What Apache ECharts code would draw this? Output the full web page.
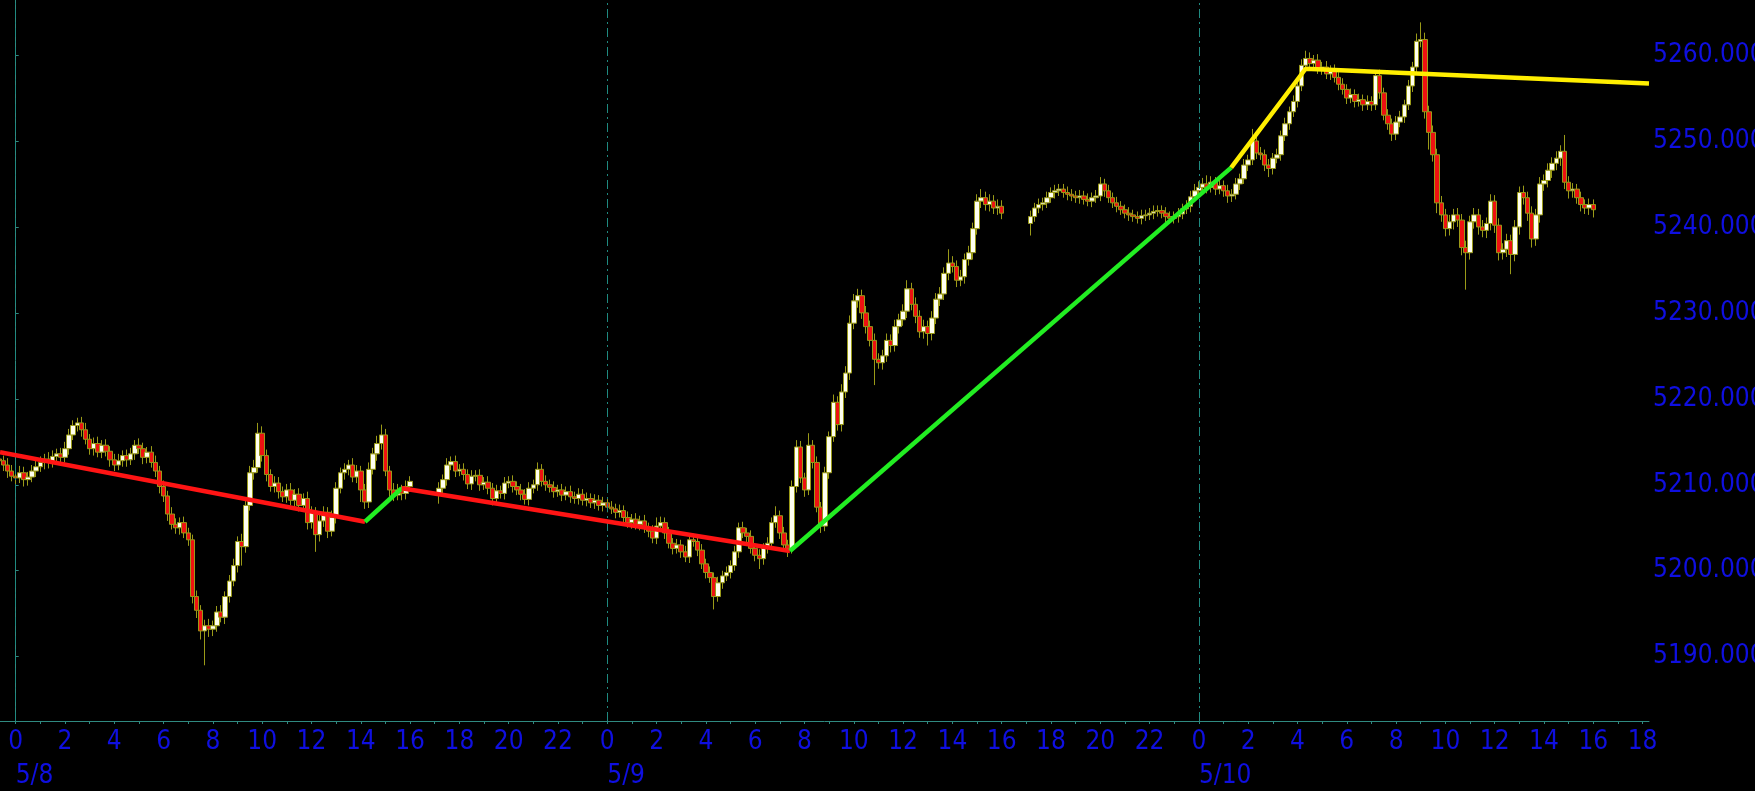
<!DOCTYPE html>
<html><head><meta charset="utf-8">
<script src="https://cdn.jsdelivr.net/npm/echarts@6/dist/echarts.min.js"></script>
<style>html,body{margin:0;padding:0;background:#000;}#c{width:1755px;height:791px;}</style>
</head><body><div id="c"></div>
<script>
// x values are hours counted from 5/8 00:00; 10-minute bars, stamped at bar close
const barMinutes = 10;
const segStartMin = [-40, 1030, 1450, 2470, 2890];
const segFirstOpen = [5213.0, 5209.0, null, 5240.4, null];

// session 1: 5/7 23:20 .. 5/8 16:00
const seg1Close = [
5212.8,5212.3,5211.6,5211.0,5210.8,5211.4,5210.6,5210.9,5211.6,5212.1,
5212.6,5213.0,5212.6,5213.3,5213.6,5213.2,5214.2,5215.8,5216.9,5217.2,
5216.4,5215.3,5214.2,5214.8,5213.8,5214.6,5213.9,5212.9,5212.3,5212.8,
5213.4,5212.9,5213.6,5214.6,5214.2,5213.2,5213.8,5212.6,5211.6,5209.8,
5208.7,5206.6,5205.4,5205.0,5205.6,5204.4,5203.6,5197.0,5195.4,5193.0,
5193.6,5193.2,5193.6,5195.2,5194.6,5197.0,5198.8,5200.6,5203.4,5202.8,
5207.6,5211.4,5212.0,5216.0,5213.4,5211.2,5209.8,5210.2,5209.2,5208.6,
5209.4,5208.2,5208.9,5207.6,5208.4,5205.6,5206.8,5204.2,5205.8,5206.8,
5204.6,5206.2,5209.6,5211.4,5211.8,5212.3,5210.9,5211.6,5209.4,5208.0,
5211.8,5213.6,5214.8,5215.8,5211.6,5209.4,5208.8,5209.4,5209.0,5209.8,
5210.4];
const seg1Up = [
.7,.6,.8,.7,.6,.8,.7,.6,.7,.8, .7,.6,.8,.7,.6,.7,.8,.7,.6,.6,
.7,.8,.6,.7,.8,.6,.7,.6,.7,.8, .6,.7,.7,.6,.8,.7,.6,.7,.8,.6,
.7,.6,.8,.7,.6,.7,.6,.6,.7,.6, .7,.8,.6,.7,.8,.6,.7,.8,.6,.9,
.7,.8,.9,1.2,.8,.7,.6,.8,.7,.6, .7,.8,.6,.7,.6,.8,.7,.6,.8,.7,
.6,.8,.7,.6,.7,.6,.8,.7,.6,.7, .8,.7,.9,1.2,.7,.6,.8,.7,.6,.7, .6];
const seg1Dn = [
.6,.7,.8,.6,.7,.6,.8,.7,.6,.7, .6,.8,.7,.6,.7,.8,.6,.7,.6,.7,
.8,.6,.7,.8,.6,.7,.6,.8,.7,.6, .7,.8,.6,.7,.6,.8,.7,.6,.7,.8,
.7,.8,.6,.7,.8,.6,.7,.8,.9,1.0, 4.0,.9,.8,.7,.6,.8,.7,.6,.8,2.2,
.7,.6,.8,.6,.7,.8,.6,.7,.8,.6, .7,.6,.8,.7,.6,.8,.7,2.0,.8,.7,
.8,.6,.7,.6,.8,.7,.6,.7,1.4,.8, .7,.6,.8,.7,.6,.8,.7,.6,.8,.7, .6];

// session 2a: 5/8 17:10 .. 24:00
const seg2Close = [
5209.6,5210.6,5212.3,5212.7,5211.6,5211.8,5211.2,5210.1,5211.0,5211.1,
5210.0,5210.3,5209.6,5208.4,5209.3,5209.0,5210.2,5210.4,5209.8,5209.4,
5208.9,5208.3,5209.6,5210.0,5211.8,5210.4,5210.0,5209.7,5209.2,5209.4,
5208.8,5209.2,5208.6,5208.4,5208.9,5208.2,5208.4,5207.9,5208.2,5207.6,
5207.9,5207.4];
const seg2Up = [
.7,.6,.8,.6,.7,.6,.7,.6,.7,.6, .7,.6,.7,.6,.7,.6,.7,.6,.7,.6,
.7,.6,.7,.6,.8,.6,.7,.6,.7,.6, .7,.6,.7,.6,.7,.6,.7,.6,.7,.6, .7,.6];
const seg2Dn = [
1.2,.6,.7,.6,.7,.6,.7,.6,.7,.6, .7,.6,.7,.8,.7,.6,.7,.6,.7,.6,
.7,.6,.7,.6,.7,.6,.7,.6,.7,.6, .7,.6,.7,.6,.7,.6,.7,.6,.7,.6, .7,.6];

// session 2b: 5/9 00:10 .. 16:00 (one row per hour)
const seg3Close = [
5207.2,5206.8,5207.0,5206.2,5205.6,5206.0,
5205.4,5205.8,5205.0,5204.6,5203.8,5205.2,
5205.6,5204.4,5203.2,5202.6,5203.0,5202.2,
5201.6,5203.6,5203.4,5202.4,5200.8,5199.8,
5199.2,5197.0,5198.6,5199.4,5199.8,5200.6,
5202.2,5205.0,5204.4,5204.0,5202.6,5201.8,
5201.4,5202.6,5203.2,5205.6,5206.4,5204.4,
5203.0,5202.6,5209.8,5214.4,5210.8,5209.4,
5214.6,5212.6,5207.4,5205.2,5211.4,5215.6,
5219.6,5217.0,5220.8,5223.0,5228.8,5231.4,
5232.0,5230.0,5228.4,5226.8,5224.6,5224.2,
5225.0,5226.8,5226.2,5228.4,5229.2,5230.2,
5232.8,5231.0,5229.6,5227.8,5228.4,5227.6,
5229.4,5231.6,5232.2,5234.6,5235.8,5235.4,
5233.8,5234.2,5236.2,5237.0,5239.8,5243.0,
5243.4,5242.6,5243.0,5242.2,5242.4,5241.6];
const seg3Up = [
.7,.6,.7,.6,.7,.6, .7,.6,.7,.6,.7,1.0, .7,.6,.7,.6,.7,.6, .7,.6,.7,.6,.7,.6,
.7,.6,.7,.6,.7,.6, .7,.6,.7,.6,.7,.6, .7,.6,.7,.6,1.1,.6, .7,.6,.7,.8,.7,.6,
1.4,.6,.7,.6,.7,.6, .9,.7,.9,.8,.9,.8, .8,.7,.8,.7,.8,.7, .7,.8,.7,.8,.7,.8,
1.0,.7,.8,.7,.8,.7, .8,.7,.8,.7,1.6,.8, .7,.8,.7,.8,.7,.8, 1.0,.7,.8,.7,.8,.7];
const seg3Dn = [
.6,.7,.6,.7,.6,.7, .6,.7,.6,.7,.6,.7, .6,.7,.6,.7,.6,.7, .6,.7,.6,.7,.6,.7,
.6,1.5,.6,.7,.6,.7, .6,.7,.6,.7,.6,.7, 1.2,.7,.6,.7,.6,.7, .6,1.0,.6,.7,.6,.8,
.6,.7,.6,.8,.6,.7, .6,.7,.8,.7,.8,.7, .8,.7,.8,.7,3.0,.7, .8,.7,.8,.7,.8,.7,
.8,.7,.8,.7,.8,1.4, .8,.7,.8,.7,.8,.7, .8,.7,.8,.7,.8,.7, .8,.7,.8,.7,.8,.7];

// session 3a: 5/9 17:10 .. 24:00
const seg4Close = [
5241.2,5242.2,5242.6,5242.8,5243.4,5244.0,5244.2,5244.4,5244.0,5243.8,
5243.6,5243.4,5243.6,5243.2,5243.0,5243.4,5243.6,5245.0,5244.2,5243.4,
5242.8,5242.4,5242.0,5241.6,5241.4,5241.2,5241.0,5241.3,5241.4,5241.6,
5241.8,5241.9,5241.6,5241.2,5241.0,5241.2,5241.5,5242.1,5242.4,5243.5,
5244.2,5244.6];
const seg4Up = [
.7,.6,.7,.6,.7,.6,.7,.6,.6,.7, .6,.6,.7,.6,.7,.6,.7,.8,.6,.7,
.6,.7,.6,.6,.7,.6,.6,.7,.6,.6, .7,.6,.6,.7,.6,.6,.7,.6,.7,.7, .8,.7];
const seg4Dn = [
1.4,.6,.6,.7,.6,.6,.7,.6,.6,.7, .6,.6,.7,.6,.6,.7,.6,.6,.7,.6,
.6,.7,.6,.6,.7,.6,.6,.7,.6,.6, .7,.6,.6,.7,.6,.6,.7,.6,.6,.7, .6,.6];

// session 3b: 5/10 00:10 .. 16:00 (one row per hour)
const seg5Close = [
5245.0,5244.6,5245.2,5244.4,5244.8,5244.2,
5243.6,5243.8,5245.0,5245.6,5247.2,5247.8,
5250.0,5248.6,5248.4,5247.2,5246.8,5248.0,
5248.4,5250.6,5252.0,5253.4,5254.6,5256.4,
5258.8,5259.6,5259.0,5259.4,5258.4,5258.6,
5257.8,5258.2,5257.4,5256.6,5256.0,5255.0,
5255.4,5254.6,5254.8,5254.2,5254.6,5254.2,
5257.6,5255.6,5253.0,5252.0,5250.8,5252.2,
5252.8,5254.2,5256.4,5258.6,5261.6,5261.8,
5253.4,5251.0,5248.4,5242.8,5241.4,5239.8,
5240.6,5241.4,5240.8,5237.6,5237.0,5240.6,
5241.4,5240.0,5239.6,5240.4,5243.0,5240.2,
5237.0,5237.4,5238.4,5236.8,5240.0,5244.0,
5243.4,5241.6,5238.6,5241.4,5245.0,5245.4,
5246.6,5247.4,5248.0,5248.8,5245.2,5244.2,
5244.4,5243.4,5242.6,5242.2,5242.6,5242.0];
const seg5Up = [
.7,1.0,.7,.6,.7,.6, .7,.6,.7,.6,.7,.6, 1.4,.6,.7,.6,.7,.6, .7,.6,.7,.6,.7,.6,
.7,.9,.7,.6,.7,.6, .7,.6,.7,.6,.7,.6, .7,.6,.7,.6,.7,.6, .6,.7,.6,.7,.6,.7,
.7,.6,.7,.6,.9,2.0, .8,.7,.8,.7,.8,.7, .8,.7,.8,.7,.8,.7, .8,.7,.8,.7,.8,.7,
.8,.7,.8,.7,.8,.7, .8,.7,.8,.7,.8,.7, .8,.7,.8,.7,1.9,.7, .7,.6,.7,.6,.7,.6];
const seg5Dn = [
.6,.7,.6,.7,.6,.7, .8,.7,.6,.7,.6,.7, .6,.7,.6,.7,1.0,.7, .6,.7,.6,.7,.6,.7,
.6,.7,.6,.7,.6,.7, .6,.7,.6,.7,.6,.7, .6,.7,.6,.7,.6,.7, .6,.7,.6,.7,.8,.7,
.6,.7,.6,.7,.6,.7, .8,2.0,.8,1.2,.8,.9, .8,.9,.8,.9,4.3,.8, .8,.9,.8,.9,.8,.9,
.9,.8,.9,2.3,.8,.9, .8,.9,1.0,.8,.9,.8, .8,.9,.8,.9,.8,.9, .8,.7,.8,.7,.8,.9];

// zigzag trend lines [hour, price]
const redLine1 = [[-0.637, 5213.8], [14.17, 5205.7]];
const greenLine1 = [[14.17, 5205.7], [15.66, 5209.6]];
const redLine2 = [[15.66, 5209.6], [31.41, 5202.3]];
const greenLine2 = [[31.41, 5202.3], [49.31, 5246.9]];
const yellowLine = [[49.31, 5246.9], [52.33, 5258.4], [66.26, 5256.7]];

const hourTicks = Array.from({length: 67}, (_, i) => i);
const hourLabels = hourTicks.filter(h => h % 2 === 0);
const dayStarts = [0, 24, 48];
const dayNames = ['5/8', '5/9', '5/10'];
const priceTicks = [5190, 5200, 5210, 5220, 5230, 5240, 5250, 5260];

const segs = [
  [seg1Close, seg1Up, seg1Dn], [seg2Close, seg2Up, seg2Dn], [seg3Close, seg3Up, seg3Dn],
  [seg4Close, seg4Up, seg4Dn], [seg5Close, seg5Up, seg5Dn]
];
const candles = [];
let prevClose = null;
segs.forEach(([cl, up, dn], s) => {
  cl.forEach((c, i) => {
    const o = i === 0 ? (segFirstOpen[s] != null ? segFirstOpen[s] : prevClose) : cl[i - 1];
    const hi = Math.max(o, c) + up[i];
    const lo = Math.min(o, c) - dn[i];
    const x = (segStartMin[s] + i * barMinutes) / 60;
    candles.push([x, o, c, lo, hi]);
  });
  prevClose = cl[cl.length - 1];
});

const axisColor = '#2f8a80';
const labelBlue = '#0f0fe0';
const font = 'DejaVu Sans Condensed';
const xMin = -0.637, xMax = 66.26;

const chart = echarts.init(document.getElementById('c'), null, {renderer: 'canvas'});
const lineSeries = (data, color) => ({
  type: 'line', data, symbol: 'none', silent: true, z: 5,
  lineStyle: {color, width: 4.5}, itemStyle: {color}, clip: true
});
chart.setOption({
  animation: false,
  backgroundColor: '#000000',
  grid: {left: 0, right: 106, top: 0, bottom: 70, containLabel: false, outerBoundsMode: 'none'},
  xAxis: [{
    type: 'value', min: xMin, max: xMax, position: 'bottom',
    axisLine: {show: true, lineStyle: {color: axisColor, width: 1}},
    axisTick: {show: true, length: 3, customValues: hourTicks, lineStyle: {color: axisColor}},
    axisLabel: {customValues: hourLabels, formatter: v => String(((Math.round(v) % 24) + 24) % 24),
      color: labelBlue, fontSize: 26, fontFamily: font, margin: 8, hideOverlap: false},
    splitLine: {show: false}
  }, {
    type: 'value', min: xMin, max: xMax, position: 'bottom',
    axisLine: {show: false}, axisTick: {show: false}, splitLine: {show: false},
    axisLabel: {customValues: dayStarts, formatter: v => dayNames[Math.round(v / 24)] || '',
      color: labelBlue, fontSize: 26, fontFamily: font, margin: 42, align: 'left'}
  }],
  yAxis: {
    type: 'value', position: 'right', min: 5182.52, max: 5266.4,
    axisLine: {show: true, lineStyle: {color: axisColor, width: 1}},
    axisTick: {show: true, length: 3, customValues: priceTicks, lineStyle: {color: axisColor}},
    axisLabel: {customValues: priceTicks, formatter: v => v.toFixed(3),
      color: labelBlue, fontSize: 26, fontFamily: font, margin: 4},
    splitLine: {show: false}
  },
  series: [{
    type: 'candlestick', data: candles, barWidth: 5, clip: true,
    encode: {x: 0, y: [1, 2, 3, 4]},
    itemStyle: {color: '#fffff0', color0: '#ee1111', borderColor: '#9a9a18', borderColor0: '#9a9a18', borderWidth: 1},
    markLine: {
      silent: true, symbol: ['none', 'none'], label: {show: false},
      lineStyle: {color: '#1f8a80', width: 1, type: [9, 4, 2, 4]},
      data: dayStarts.map(d => ({xAxis: d}))
    }
  },
  lineSeries(redLine1, '#ff1414'),
  lineSeries(greenLine1, '#22ee22'),
  lineSeries(redLine2, '#ff1414'),
  lineSeries(greenLine2, '#22ee22'),
  lineSeries(yellowLine, '#ffee00')
  ]
});
</script></body></html>
